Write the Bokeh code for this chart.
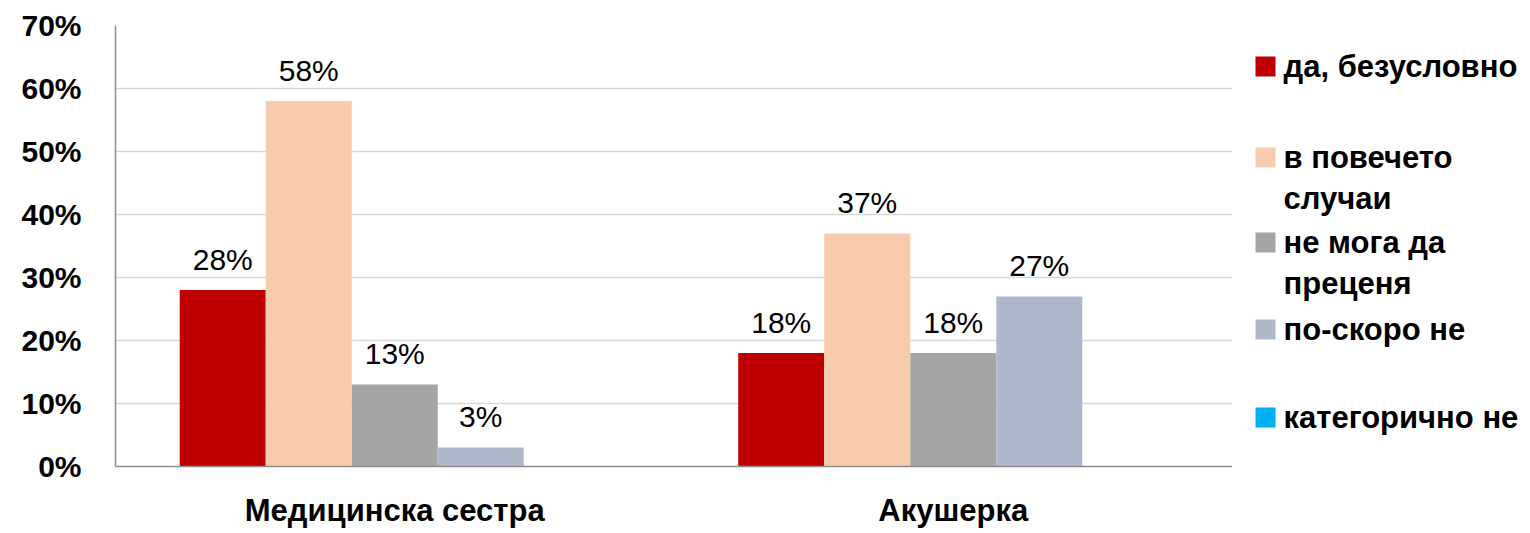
from bokeh.plotting import figure
from bokeh.models import ColumnDataSource, Range1d, FactorRange, FixedTicker, NumeralTickFormatter
from bokeh.transform import dodge
from bokeh.layouts import row
from bokeh.core.properties import value
from bokeh.embed import file_html
from bokeh.resources import INLINE

categories = ["Медицинска сестра", "Акушерка"]
series_names = ["да, безусловно", "в повечето\nслучаи", "не мога да\nпреценя", "по-скоро не", "категорично не"]
series_colors = ["#C00000", "#F8CBAD", "#A5A5A5", "#ADB9CA", "#00B0F0"]
values_yes = [0.28, 0.18]
values_mostly = [0.58, 0.37]
values_cannot = [0.13, 0.18]
values_rather_not = [0.03, 0.27]
values_no = [0.0, 0.0]
y_ticks = [0.0, 0.1, 0.2, 0.3, 0.4, 0.5, 0.6, 0.7]

all_values = [values_yes, values_mostly, values_cannot, values_rather_not, values_no]

FONT = "Liberation Sans"

p = figure(x_range=FactorRange(*categories, range_padding=0), y_range=Range1d(0, 0.70),
           frame_width=1117, frame_height=441, output_backend="svg", toolbar_location=None,
           min_border_left=115, min_border_right=0, min_border_top=25, min_border_bottom=60)
p.outline_line_color = None
p.background_fill_color = "white"
p.border_fill_color = "white"

bw = 0.154
offsets = [-2 * bw, -bw, 0, bw, 2 * bw]
for vals, col, off in zip(all_values, series_colors, offsets):
    src = ColumnDataSource(dict(cat=categories, val=vals,
                                lab=[f"{round(v*100)}%" if v > 0 else "" for v in vals]))
    p.vbar(x=dodge("cat", off, range=p.x_range), top="val", width=bw, source=src,
           fill_color=col, line_color=None)
    p.text(x=dodge("cat", off, range=p.x_range), y="val", text="lab", source=src,
           text_align="center", text_baseline="alphabetic", y_offset=-31,
           text_font=value(FONT), text_font_size="30px", text_color="black")

p.xgrid.grid_line_color = None
p.ygrid.grid_line_color = "#D9D9D9"
p.ygrid.grid_line_width = 1.3
p.yaxis.ticker = FixedTicker(ticks=y_ticks)
p.yaxis.formatter = NumeralTickFormatter(format="0%")
for ax in (p.xaxis[0], p.yaxis[0]):
    ax.axis_line_color = "#8C8C8C"
    ax.axis_line_width = 1.5
    ax.major_tick_line_color = None
    ax.minor_tick_line_color = None
    ax.major_label_text_font = FONT
    ax.major_label_text_font_style = "bold"
    ax.major_label_text_color = "black"
p.yaxis.major_label_text_font_size = "30px"
p.yaxis.major_label_standoff = 28
p.xaxis.major_label_text_font_size = "31px"
p.xaxis.major_label_standoff = 20

# legend panel (data coordinates follow the page pixels of the main frame)
leg = figure(frame_width=298, frame_height=441, x_range=Range1d(1232, 1530), y_range=Range1d(466, 25),
             output_backend="svg", toolbar_location=None,
             min_border=0, min_border_top=25)
leg.outline_line_color = None
leg.axis.visible = False
leg.grid.visible = False

first_y = [66, 157, 242, 329, 417]
line_gap = 41
sq_x, sq_y, sq_c = [], [], []
tx, ty, tt = [], [], []
for name, col, y0 in zip(series_names, series_colors, first_y):
    sq_x.append(1265)
    sq_y.append(y0)
    sq_c.append(col)
    for i, line in enumerate(name.split("\n")):
        tx.append(1283)
        ty.append(y0 + i * line_gap)
        tt.append(line)
leg.rect(x=sq_x, y=sq_y, width=20, height=20, fill_color=sq_c, line_color=None)
leg.text(x=tx, y=ty, text=tt, text_align="left", text_baseline="middle",
         text_font=value(FONT), text_font_style="bold", text_font_size="31px", text_color="black")

layout = row(p, leg)
open("out.html", "w").write(file_html(layout, INLINE))
